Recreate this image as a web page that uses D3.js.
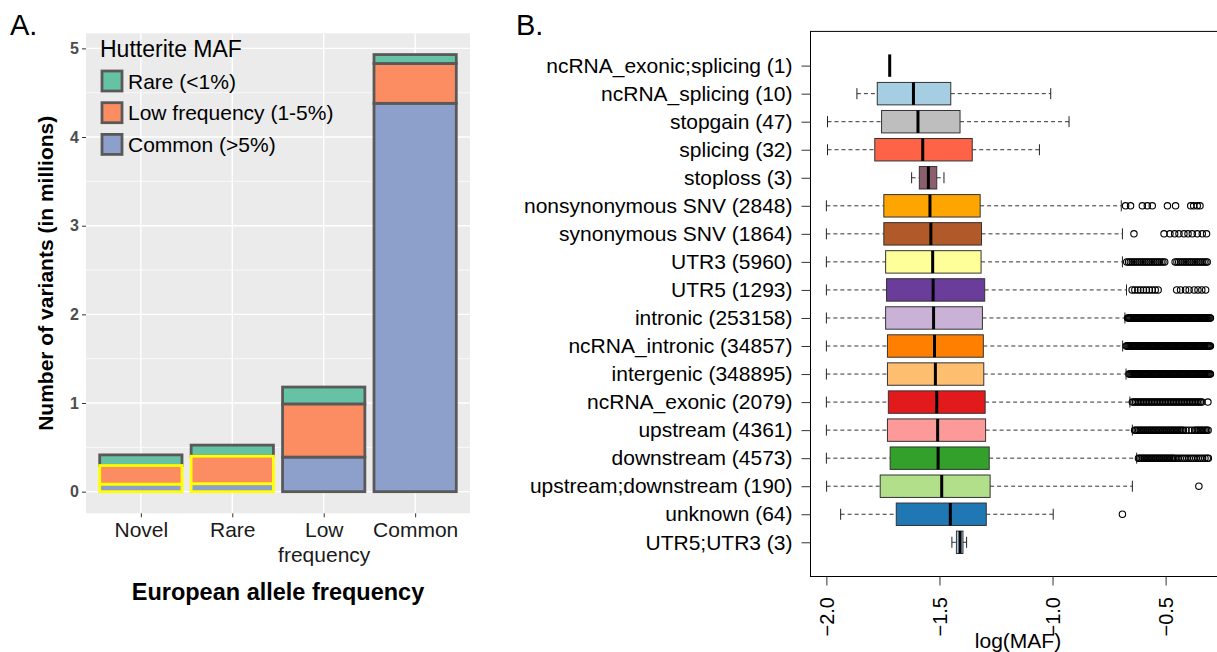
<!DOCTYPE html>
<meta charset="utf-8">
<script src="https://d3js.org/d3.v7.min.js"></script>
<style>
  body { margin: 0; background: #fff; }
  svg { display: block; font-family: "Liberation Sans", Arial, sans-serif; }
</style>
<div id="chart"></div>
<script>

// ---- Panel A: variant counts (millions), stacked by Hutterite MAF ----
var eurFreq = ["Novel", "Rare", "Low frequency", "Common"];
var hutLevels = ["Common (>5%)", "Low frequency (1-5%)", "Rare (<1%)"];   // bottom -> top of stack
var legendLevels = ["Rare (<1%)", "Low frequency (1-5%)", "Common (>5%)"];
var hutCommon = [0.085, 0.09, 0.39, 4.38];
var hutLowFreq = [0.21, 0.31, 0.60, 0.45];
var hutRare = [0.12, 0.125, 0.19, 0.10];
var yTicksA = [0, 1, 2, 3, 4, 5];

// ---- Panel B: log10(MAF) boxplots by annotation ----
var regions = ["ncRNA_exonic;splicing (1)", "ncRNA_splicing (10)", "stopgain (47)", "splicing (32)",
  "stoploss (3)", "nonsynonymous SNV (2848)", "synonymous SNV (1864)", "UTR3 (5960)", "UTR5 (1293)",
  "intronic (253158)", "ncRNA_intronic (34857)", "intergenic (348895)", "ncRNA_exonic (2079)",
  "upstream (4361)", "downstream (4573)", "upstream;downstream (190)", "unknown (64)", "UTR5;UTR3 (3)"];
var whiskLo = [-1.72, -1.865, -1.995, -1.995, -1.623, -2.0, -2.0, -2.0, -2.0, -2.0, -2.0, -2.0, -2.0, -2.0, -2.0, -1.999, -1.937, -1.445];
var q1 = [-1.72, -1.775, -1.756, -1.786, -1.589, -1.746, -1.746, -1.738, -1.734, -1.738, -1.730, -1.730, -1.726, -1.730, -1.718, -1.762, -1.691, -1.425];
var med = [-1.72, -1.615, -1.595, -1.574, -1.549, -1.542, -1.538, -1.530, -1.528, -1.526, -1.522, -1.518, -1.512, -1.508, -1.506, -1.490, -1.452, -1.409];
var q3 = [-1.72, -1.450, -1.409, -1.355, -1.512, -1.320, -1.314, -1.316, -1.300, -1.310, -1.306, -1.304, -1.298, -1.296, -1.280, -1.276, -1.293, -1.396];
var whiskHi = [-1.72, -1.008, -0.927, -1.058, -1.480, -0.696, -0.691, -0.691, -0.673, -0.680, -0.690, -0.675, -0.658, -0.647, -0.628, -0.647, -0.997, -1.380];
var boxColors = ["#000000", "#A6CEE3", "#BEBEBE", "#FF6347", "#8B5F6B", "#FFA500", "#B15928", "#FFFF99", "#6A3D9A",
  "#CAB2D6", "#FF7F00", "#FDBF6F", "#E31A1C", "#FB9A99", "#33A02C", "#B2DF8A", "#1F78B4", "#A6CEE3"];

// outliers per annotation
var outNonsyn = [-0.677, -0.655, -0.603, -0.581, -0.559, -0.492, -0.456, -0.389, -0.376, -0.360, -0.348];
var outSyn = [-0.640, -0.507, -0.481, -0.460, -0.441, -0.419, -0.401, -0.382, -0.360, -0.338, -0.319];
var outUTR3 = [-0.672, -0.664, -0.656, -0.648, -0.640, -0.632, -0.624, -0.616, -0.608, -0.600, -0.592, -0.584, -0.576, -0.568,
  -0.560, -0.552, -0.544, -0.536, -0.528, -0.520, -0.512, -0.504, -0.458, -0.450, -0.442, -0.434, -0.426, -0.418, -0.410,
  -0.402, -0.394, -0.386, -0.378, -0.370, -0.362, -0.354, -0.346, -0.338, -0.330, -0.322, -0.316];
var outUTR5 = [-0.648, -0.636, -0.623, -0.611, -0.598, -0.585, -0.572, -0.559, -0.546, -0.533,
  -0.451, -0.434, -0.412, -0.396, -0.374, -0.357, -0.340, -0.323];
var outIntronic = [-0.668, -0.664, -0.660, -0.656, -0.652, -0.648, -0.644, -0.640, -0.636, -0.632, -0.628, -0.624, -0.620,
  -0.616, -0.612, -0.608, -0.604, -0.600, -0.596, -0.592, -0.588, -0.584, -0.580, -0.576, -0.572, -0.568, -0.564, -0.560,
  -0.556, -0.552, -0.548, -0.544, -0.540, -0.536, -0.532, -0.528, -0.524, -0.520, -0.516, -0.512, -0.508, -0.504, -0.500,
  -0.496, -0.492, -0.488, -0.484, -0.480, -0.476, -0.472, -0.468, -0.464, -0.460, -0.456, -0.452, -0.448, -0.444, -0.440,
  -0.436, -0.432, -0.428, -0.424, -0.420, -0.416, -0.412, -0.408, -0.404, -0.400, -0.396, -0.392, -0.388, -0.384, -0.380,
  -0.376, -0.372, -0.368, -0.364, -0.360, -0.356, -0.352, -0.348, -0.344, -0.340, -0.336, -0.332, -0.328, -0.324, -0.320,
  -0.316, -0.312, -0.308, -0.304, -0.302];
var outNcIntronic = [-0.674, -0.670, -0.666, -0.662, -0.658, -0.654, -0.650, -0.646, -0.642, -0.638, -0.634, -0.630, -0.626,
  -0.622, -0.618, -0.614, -0.610, -0.606, -0.602, -0.598, -0.594, -0.590, -0.586, -0.582, -0.578, -0.574, -0.570, -0.566,
  -0.562, -0.558, -0.554, -0.550, -0.546, -0.542, -0.538, -0.534, -0.530, -0.526, -0.522, -0.518, -0.514, -0.510, -0.506,
  -0.502, -0.498, -0.494, -0.490, -0.486, -0.482, -0.478, -0.474, -0.470, -0.466, -0.462, -0.458, -0.454, -0.450, -0.446,
  -0.442, -0.438, -0.434, -0.430, -0.426, -0.422, -0.418, -0.414, -0.410, -0.406, -0.402, -0.398, -0.394, -0.390, -0.386,
  -0.382, -0.378, -0.374, -0.370, -0.366, -0.362, -0.358, -0.354, -0.350, -0.346, -0.342, -0.338, -0.334, -0.330, -0.326,
  -0.322, -0.318, -0.314, -0.310, -0.306, -0.302];
var outIntergenic = [-0.662, -0.657, -0.653, -0.649, -0.645, -0.641, -0.637, -0.633, -0.629, -0.625, -0.621, -0.617, -0.613,
  -0.609, -0.605, -0.601, -0.597, -0.593, -0.589, -0.585, -0.581, -0.577, -0.573, -0.569, -0.565, -0.561, -0.557, -0.553,
  -0.549, -0.545, -0.541, -0.537, -0.533, -0.529, -0.525, -0.521, -0.517, -0.513, -0.509, -0.505, -0.501, -0.497, -0.493,
  -0.489, -0.485, -0.481, -0.477, -0.473, -0.469, -0.465, -0.461, -0.457, -0.453, -0.449, -0.445, -0.441, -0.437, -0.433,
  -0.429, -0.425, -0.421, -0.417, -0.413, -0.409, -0.405, -0.401, -0.397, -0.393, -0.389, -0.385, -0.381, -0.377, -0.373,
  -0.369, -0.365, -0.361, -0.357, -0.353, -0.349, -0.345, -0.341, -0.337, -0.333, -0.329, -0.325, -0.321, -0.317, -0.313,
  -0.309, -0.305, -0.302];
var outNcExonic = [-0.647, -0.640, -0.633, -0.626, -0.619, -0.612, -0.605, -0.598, -0.591, -0.584, -0.577, -0.570, -0.563,
  -0.556, -0.549, -0.542, -0.535, -0.528, -0.521, -0.514, -0.507, -0.500, -0.493, -0.486, -0.479, -0.472, -0.465, -0.458,
  -0.451, -0.444, -0.437, -0.430, -0.423, -0.416, -0.409, -0.402, -0.395, -0.388, -0.381, -0.374, -0.367, -0.360, -0.353,
  -0.346, -0.339, -0.313];
var outUpstream = [-0.637, -0.631, -0.625, -0.619, -0.613, -0.607, -0.601, -0.595, -0.589, -0.583, -0.577, -0.571, -0.565,
  -0.559, -0.553, -0.547, -0.541, -0.535, -0.529, -0.523, -0.517, -0.511, -0.505, -0.499, -0.493, -0.487, -0.481, -0.475,
  -0.469, -0.463, -0.457, -0.451, -0.445, -0.439, -0.433, -0.427, -0.421, -0.410, -0.397, -0.384, -0.372, -0.366, -0.360,
  -0.354, -0.348, -0.342, -0.336, -0.330, -0.324, -0.318, -0.312];
var outDownstream = [-0.620, -0.614, -0.608, -0.602, -0.596, -0.590, -0.584, -0.578, -0.572, -0.566, -0.560, -0.554, -0.548,
  -0.542, -0.536, -0.530, -0.524, -0.518, -0.512, -0.506, -0.500, -0.494, -0.488, -0.482, -0.476, -0.470, -0.464, -0.456,
  -0.446, -0.436, -0.426, -0.416, -0.406, -0.396, -0.386, -0.376, -0.366, -0.356, -0.346, -0.336, -0.326, -0.316, -0.311];
var outUpDown = [-0.353];
var outUnknown = [-0.691];
var xTicksB = [-2.0, -1.5, -1.0, -0.5];

var outliers = [[], [], [], [], [], outNonsyn, outSyn, outUTR3, outUTR5, outIntronic, outNcIntronic, outIntergenic,
  outNcExonic, outUpstream, outDownstream, outUpDown, outUnknown, []];

var svg = d3.select("#chart").append("svg")
  .attr("width", 1217)
  .attr("height", 652);
svg.append("rect").attr("width", 1217).attr("height", 652).attr("fill", "#fff");

// panel letters
svg.append("text").attr("x", 10).attr("y", 35).style("font-size", "29px").text("A.");
svg.append("text").attr("x", 516).attr("y", 35).style("font-size", "29px").text("B.");

// ================= Panel A =================
var pa = {left: 86, right: 470, top: 33.3, bottom: 513.3};

var x = d3.scalePoint()
  .domain(eurFreq)
  .range([pa.left, pa.right])
  .padding(0.6);
var y = d3.scaleLinear()
  .domain([-0.244, 5.17])
  .range([pa.bottom, pa.top]);

var gA = svg.append("g");
gA.append("rect")
  .attr("x", pa.left).attr("y", pa.top)
  .attr("width", pa.right - pa.left).attr("height", pa.bottom - pa.top)
  .attr("fill", "#EBEBEB");

// minor + major grid
var minorY = y.ticks(10).filter(function (d) { return d % 1 !== 0; });
gA.selectAll(".minor").data(minorY).enter().append("line")
  .attr("x1", pa.left).attr("x2", pa.right)
  .attr("y1", function (d) { return y(d); }).attr("y2", function (d) { return y(d); })
  .attr("stroke", "#fff").attr("stroke-width", 0.7);
gA.selectAll(".majorY").data(yTicksA).enter().append("line")
  .attr("x1", pa.left).attr("x2", pa.right)
  .attr("y1", function (d) { return y(d); }).attr("y2", function (d) { return y(d); })
  .attr("stroke", "#fff").attr("stroke-width", 1.4);
gA.selectAll(".majorX").data(eurFreq).enter().append("line")
  .attr("y1", pa.top).attr("y2", pa.bottom)
  .attr("x1", function (d) { return x(d); }).attr("x2", function (d) { return x(d); })
  .attr("stroke", "#fff").attr("stroke-width", 1.4);

// stacked bars
var rows = eurFreq.map(function (c, i) {
  var r = {cat: c};
  r[hutLevels[0]] = hutCommon[i];
  r[hutLevels[1]] = hutLowFreq[i];
  r[hutLevels[2]] = hutRare[i];
  return r;
});
var stacked = d3.stack().keys(hutLevels)(rows);
var color = d3.scaleOrdinal().domain(hutLevels).range(["#8DA0CB", "#FC8D62", "#66C2A5"]);
var barW = x.step() * 0.9;

var segs = [];
stacked.forEach(function (layer) {
  layer.forEach(function (d) {
    var hl = (d.data.cat === "Novel" || d.data.cat === "Rare") && layer.key !== "Rare (<1%)";
    segs.push({key: layer.key, cat: d.data.cat, y0: d[0], y1: d[1], hl: hl});
  });
});
segs.sort(function (a, b) { return a.hl - b.hl; });   // yellow outlines drawn last

gA.selectAll(".seg").data(segs).enter().append("rect")
  .attr("x", function (d) { return x(d.cat) - barW / 2; })
  .attr("width", barW)
  .attr("y", function (d) { return y(d.y1); })
  .attr("height", function (d) { return y(d.y0) - y(d.y1); })
  .attr("fill", function (d) { return color(d.key); })
  .attr("stroke", function (d) { return d.hl ? "#FFFF00" : "#595959"; })
  .attr("stroke-width", 2.8);

// axes
var axL = gA.append("g")
  .attr("transform", "translate(" + pa.left + ",0)")
  .call(d3.axisLeft(y).tickValues(yTicksA).tickFormat(d3.format("d")).tickSize(4).tickPadding(3));
axL.select(".domain").remove();
axL.selectAll("line").attr("stroke", "#333");
axL.selectAll("text").style("font-size", "16px").style("font-weight", "bold").attr("fill", "#4D4D4D");

var axB = gA.append("g")
  .attr("transform", "translate(0," + pa.bottom + ")")
  .call(d3.axisBottom(x).tickSize(4).tickPadding(5));
axB.select(".domain").remove();
axB.selectAll("line").attr("stroke", "#333");
axB.selectAll("text")
  .style("font-size", "21px").attr("fill", "#1a1a1a")
  .each(function (d) {
    var t = d3.select(this), words = d.split(" ");
    t.text(null);
    words.forEach(function (w, i) {
      t.append("tspan").attr("x", 0).attr("dy", i === 0 ? "0.71em" : "1.2em").text(w);
    });
  });

gA.append("text")
  .attr("transform", "translate(53," + (pa.top + pa.bottom) / 2 + ") rotate(-90)")
  .attr("text-anchor", "middle")
  .style("font-size", "21px").style("font-weight", "bold")
  .text("Number of variants (in millions)");
gA.append("text")
  .attr("x", (pa.left + pa.right) / 2).attr("y", 600)
  .attr("text-anchor", "middle")
  .style("font-size", "23.5px").style("font-weight", "bold")
  .text("European allele frequency");

// legend
var leg = gA.append("g");
leg.append("text").attr("x", 100).attr("y", 57).style("font-size", "23px").text("Hutterite MAF");
var lg = leg.selectAll(".key").data(legendLevels).enter().append("g")
  .attr("transform", function (d, i) { return "translate(102," + (71 + i * 31.7) + ")"; });
lg.append("rect").attr("width", 20).attr("height", 20)
  .attr("fill", function (d) { return color(d); })
  .attr("stroke", "#595959").attr("stroke-width", 2.8);
lg.append("text").attr("x", 26).attr("y", 10).attr("dy", "0.36em")
  .style("font-size", "21px").text(function (d) { return d; });

// ================= Panel B =================
var pb = {left: 811, right: 1226, top: 31.4, bottom: 576.5};
var xb = d3.scaleLinear().domain([-2.068, -0.233]).range([pb.left, pb.right]);
var yb = d3.scalePoint().domain(regions).range([pb.top, pb.bottom]).padding(1.22);
var boxH = yb.step() * 0.8;
var fillB = d3.scaleOrdinal().domain(regions).range(boxColors);

var gB = svg.append("g");
var stats = regions.map(function (r, i) {
  return {r: r, lo: whiskLo[i], q1: q1[i], m: med[i], q3: q3[i], hi: whiskHi[i], out: outliers[i]};
});

var row = gB.selectAll(".row").data(stats).enter().append("g")
  .attr("transform", function (d) { return "translate(0," + yb(d.r) + ")"; });

// whiskers
row.append("line")
  .attr("x1", function (d) { return xb(d.lo); }).attr("x2", function (d) { return xb(d.q1); })
  .attr("stroke", "#333").attr("stroke-dasharray", "4,3");
row.append("line")
  .attr("x1", function (d) { return xb(d.q3); }).attr("x2", function (d) { return xb(d.hi); })
  .attr("stroke", "#333").attr("stroke-dasharray", "4,3");
row.append("line")
  .attr("x1", function (d) { return xb(d.lo); }).attr("x2", function (d) { return xb(d.lo); })
  .attr("y1", -5.5).attr("y2", 5.5).attr("stroke", "#222");
row.append("line")
  .attr("x1", function (d) { return xb(d.hi); }).attr("x2", function (d) { return xb(d.hi); })
  .attr("y1", -5.5).attr("y2", 5.5).attr("stroke", "#222");
// boxes
row.append("rect")
  .attr("x", function (d) { return xb(d.q1); })
  .attr("width", function (d) { return xb(d.q3) - xb(d.q1); })
  .attr("y", -boxH / 2).attr("height", boxH)
  .attr("fill", function (d) { return fillB(d.r); })
  .attr("stroke", "#333").attr("stroke-width", 1);
row.append("line")
  .attr("x1", function (d) { return xb(d.m); }).attr("x2", function (d) { return xb(d.m); })
  .attr("y1", -boxH / 2).attr("y2", boxH / 2)
  .attr("stroke", "#000").attr("stroke-width", 3);
// outliers
row.selectAll(".pt").data(function (d) { return d.out; }).enter().append("circle")
  .attr("cx", function (v) { return xb(v); })
  .attr("r", 3.2)
  .attr("fill", "none").attr("stroke", "#000").attr("stroke-width", 1.1);

// frame
gB.append("rect")
  .attr("x", pb.left - 0.5).attr("y", pb.top)
  .attr("width", pb.right - pb.left).attr("height", pb.bottom - pb.top)
  .attr("fill", "none").attr("stroke", "#000").attr("stroke-width", 1);

var byL = gB.append("g")
  .attr("transform", "translate(" + (pb.left - 0.5) + ",0)")
  .call(d3.axisLeft(yb).tickSize(9).tickPadding(9));
byL.select(".domain").remove();
byL.selectAll("line").attr("stroke", "#333");
byL.selectAll("text").style("font-size", "21px").attr("fill", "#000");

var bxB = gB.append("g")
  .attr("transform", "translate(0," + pb.bottom + ")")
  .call(d3.axisBottom(xb).tickValues(xTicksB).tickSize(9).tickFormat(d3.format(".1f")));
bxB.select(".domain").remove();
bxB.selectAll("line").attr("stroke", "#333");
bxB.selectAll("text")
  .attr("transform", "rotate(-90)")
  .attr("x", -20.5).attr("y", 0).attr("dy", "0.35em")
  .attr("text-anchor", "end")
  .style("font-size", "20px").attr("fill", "#000");

gB.append("text")
  .attr("x", 1018).attr("y", 648)
  .attr("text-anchor", "middle")
  .style("font-size", "21px")
  .text("log(MAF)");

</script>
